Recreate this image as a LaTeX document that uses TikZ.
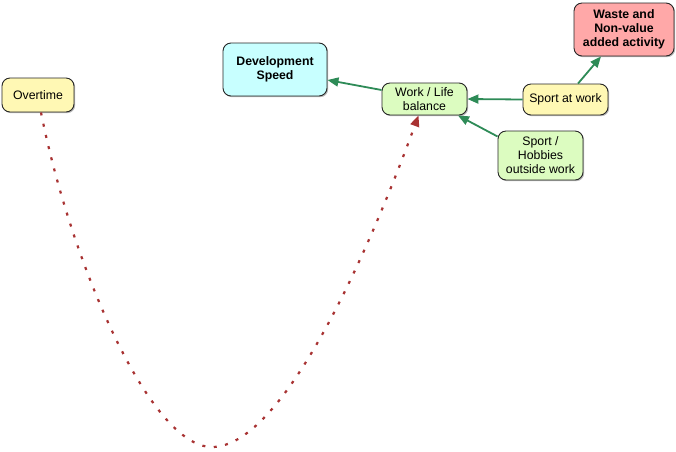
\documentclass[tikz,border=0pt]{standalone}
\usepackage{fontspec}
\setmainfont{Liberation Sans}
\usetikzlibrary{arrows.meta,shadows}
\definecolor{cyellow}{HTML}{FFF8B4}
\definecolor{ccyan}{HTML}{C8FFFF}
\definecolor{cgreen}{HTML}{DCFCC0}
\definecolor{cpink}{HTML}{FFA8A8}
\definecolor{cgarrow}{HTML}{2E8B57}
\definecolor{credline}{HTML}{A83232}
\tikzset{
  box/.style={draw=black!85, line width=0.9pt, rounded corners=8pt, align=center,
    inner sep=2pt, font=\fontsize{12.3}{14}\selectfont,
    drop shadow={shadow xshift=1.2pt, shadow yshift=-1.2pt, fill=black!45, opacity=0.6}},
  garrow/.style={draw=cgarrow, line width=1.8pt, -{Triangle[length=11pt,width=9pt]}},
  rcurve/.style={draw=credline, line width=2.2pt, dash pattern=on 3pt off 8.5pt,
    -{Triangle[length=11pt,width=9pt]}}
}
\begin{document}
\begin{tikzpicture}[x=1pt,y=-1pt]
\useasboundingbox (0,0) rectangle (676,451);
\node[box, fill=cyellow, minimum width=72pt, minimum height=34pt] (ot) at (38,95) {Overtime};
\node[box, fill=ccyan, minimum width=104pt, minimum height=53pt, font=\fontsize{12.3}{14}\selectfont\bfseries] (ds) at (275,69.5) {Development\\Speed};
\node[box, fill=cgreen, minimum width=85pt, minimum height=32pt] (wl) at (424.5,99) {Work / Life\\balance};
\node[box, fill=cpink, minimum width=100pt, minimum height=53pt, font=\fontsize{12.3}{14}\selectfont\bfseries] (wa) at (624,29.5) {Waste and\\Non-value\\added activity};
\node[box, fill=cyellow, minimum width=85pt, minimum height=31pt] (sa) at (565.5,99.5) {Sport at work};
\node[box, fill=cgreen, minimum width=85pt, minimum height=49pt] (sh) at (540.5,155.5) {Sport /\\Hobbies\\outside work};
\draw[garrow] ([yshift=9pt]wl.west) -- ([yshift=-10.5pt]ds.east);
\draw[garrow] (sa.west) -- (wl.east);
\draw[garrow] ([yshift=19pt]sh.west) -- ([xshift=33.5pt]wl.south);
\draw[garrow] ([xshift=12.5pt]sa.north) -- ([xshift=-23pt]wa.south);
\draw[rcurve] ([xshift=3pt]ot.south) .. controls (71,263) and (150,447) .. (212,447)
  .. controls (280,447) and (363,267) .. ([xshift=-6pt]wl.south);
\end{tikzpicture}
\end{document}
